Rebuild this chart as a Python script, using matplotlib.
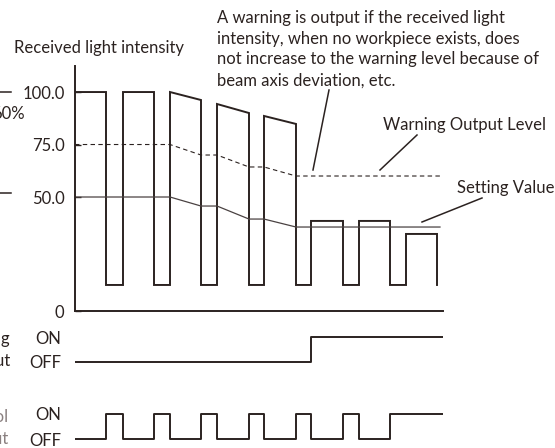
import matplotlib
matplotlib.use('Agg')
import matplotlib.pyplot as plt
import numpy as np

plt.rcParams['font.family'] = ['Lato', 'DejaVu Sans']

# Data (time axis in arbitrary units, intensity in %)
high_start = [0, 48, 95, 142, 189, 236, 284, 331]
high_end = [31, 79, 126, 174, 221, 268, 315, 362]
top_start = [100, 100, 100, 94.3, 88.6, 38.6, 38.6, 32.4]
top_end = [100, 100, 96.2, 90.0, 84.8, 38.6, 38.6, 32.4]
low_level = 8.1

warn_x = [0, 95, 126, 142, 174, 189, 221, 365]
warn_y = [75, 75, 70, 70, 64.3, 64.3, 60, 60]
set_x = [0, 95, 126, 142, 174, 189, 221, 365]
set_y = [50, 50, 45.7, 45.7, 39.5, 39.5, 35.7, 35.7]

y_ticks = [100, 75, 50]
y_ticklabels = ['100.0', '75.0', '50.0']

warn_out_x = [0, 236, 368]
warn_out_y = [0, 1, 1]

W, H = 555, 448
ink = '#2b2220'
fs = 12

fig = plt.figure(figsize=(W / 100, H / 100), dpi=100)


def ax_at(x0, y0, x1, y1):
    # pixel box (top-left origin) -> axes
    return fig.add_axes([x0 / W, 1 - y1 / H, (x1 - x0) / W, (y1 - y0) / H])


def px(x, y):
    return x / W, 1 - y / H


# build received-light signal from pulse lists
sx, sy = [0], [top_start[0]]
for i in range(len(high_start)):
    if i > 0:
        sx += [high_start[i], high_start[i]]
        sy += [low_level, top_start[i]]
    sx += [high_end[i], high_end[i]]
    sy += [top_end[i], low_level]
    if i < len(high_start) - 1:
        sx.append(high_start[i + 1])
        sy.append(low_level)

ax = ax_at(75, 66, 443, 311)
ax.set_xlim(0, 368)
ax.set_ylim(-4.3, 112.4)
ax.plot(sx, sy, color=ink, lw=1.4, solid_joinstyle='miter')
ax.plot(warn_x, warn_y, color=ink, lw=0.8, ls=(0, (4, 3)))
ax.plot(set_x, set_y, color='#4a4242', lw=0.9)
for s in ['top', 'right']:
    ax.spines[s].set_visible(False)
for s in ['left', 'bottom']:
    ax.spines[s].set_color(ink)
    ax.spines[s].set_linewidth(1.4)
ax.set_xticks([])
ax.set_yticks(y_ticks + [-4.3])
ax.set_yticklabels(y_ticklabels + ['0'])
ax.tick_params(axis='y', direction='in', length=4, width=1, color=ink,
               pad=7.5, labelsize=fs, labelcolor=ink)
ax.patch.set_alpha(0)

# control output: ON while the light stays below the setting value
ctrl_x = [0]
ctrl_y = [0]
for i in range(len(high_end)):
    ctrl_x.append(high_end[i])
    ctrl_y.append(1)
    if i < len(high_start) - 1:
        ctrl_x.append(high_start[i + 1])
        ctrl_y.append(1 if top_start[i + 1] < set_y[-1] else 0)
ctrl_x.append(368)
ctrl_y.append(1)

for (y0, y1, xs, ys) in [(330, 370, warn_out_x, warn_out_y),
                         (407, 447, ctrl_x, ctrl_y)]:
    a = ax_at(75, y0, 443, y1)
    a.set_xlim(0, 368)
    a.set_ylim(-0.32, 1.28)
    a.step(xs, ys, where='post', color=ink, lw=1.4)
    for s in a.spines.values():
        s.set_visible(False)
    a.set_xticks([])
    a.set_yticks([0, 1])
    a.set_yticklabels(['OFF', 'ON'])
    a.tick_params(axis='y', length=0, pad=10, labelsize=fs, labelcolor=ink)
    a.patch.set_alpha(0)

fig.text(*px(99, 48), 'Received light intensity', ha='center', va='center',
         fontsize=fs, color=ink)
fig.text(*px(217, 49), 'A warning is output if the received light\n'
         'intensity, when no workpiece exists, does\n'
         'not increase to the warning level because of\n'
         'beam axis deviation, etc.', ha='left', va='center',
         fontsize=fs, color=ink, linespacing=1.38)
fig.text(*px(383, 125), 'Warning Output Level', ha='left', va='center',
         fontsize=fs, color=ink)
fig.text(*px(457, 188), 'Setting Value', ha='left', va='center',
         fontsize=fs, color=ink)

# labels cut by the left edge, as in the reference
fig.text(*px(25, 114), '60%', ha='right', va='center', fontsize=fs, color=ink)
fig.text(*px(10, 350), 'Warning\noutput', ha='right', va='center',
         fontsize=fs, color=ink, linespacing=1.45)
fig.text(*px(8, 428), 'Control\noutput', ha='right', va='center',
         fontsize=fs, color='#8a8080', linespacing=1.45)

# pointer lines
for (x0, y0, x1, y1) in [(329, 90, 313, 170), (417, 135, 380, 170),
                         (482, 198, 422, 222), (0, 92, 11, 92), (0, 193, 11, 193)]:
    fig.add_artist(plt.Line2D([x0 / W, x1 / W], [1 - y0 / H, 1 - y1 / H],
                              color=ink, lw=1.1))

fig.savefig('out.png', dpi=100)
